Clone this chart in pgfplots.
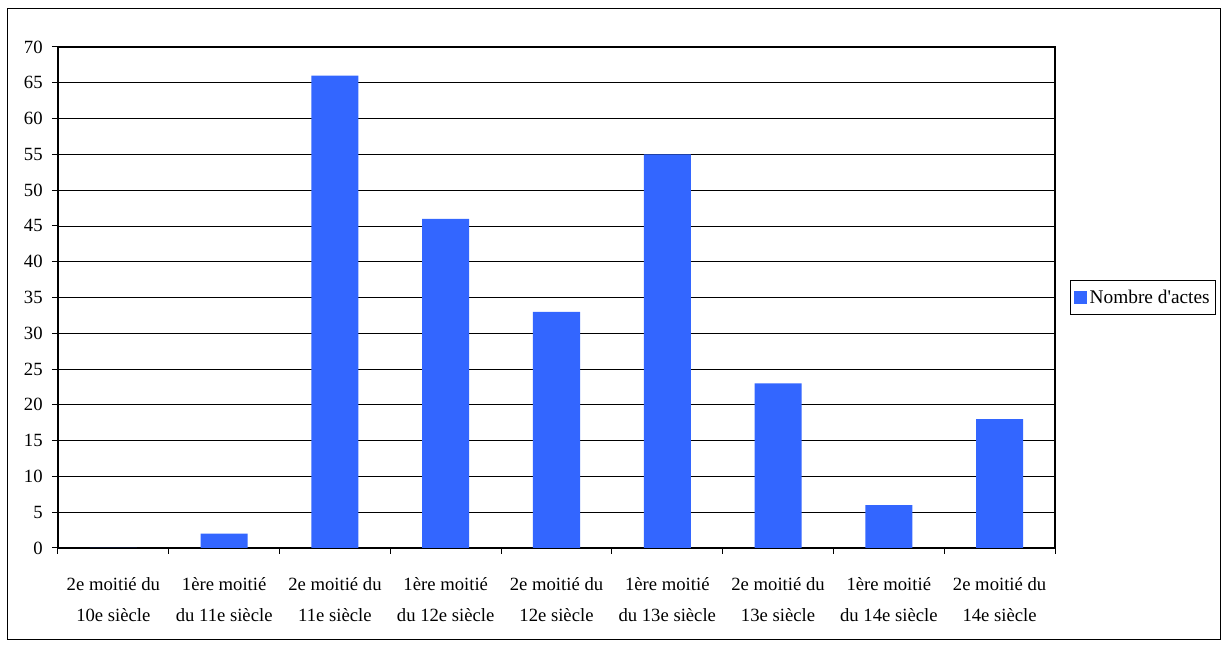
\documentclass[border=0pt]{standalone}
\usepackage{pgfplots}
\pgfplotsset{compat=1.18}
\usepackage{fontspec}
\setmainfont{Liberation Serif}
\newfontfamily\plainfont{Liberation Serif}
\definecolor{barblue}{HTML}{3366FF}
\begin{document}
\begin{tikzpicture}[x=1pt,y=1pt]
\path (0,0) rectangle (918.75,486);
\draw[line width=0.75pt] (5.25,6) rectangle (915,479.25);
\begin{axis}[
  at={(43.5pt,75pt)}, anchor=south west,
  scale only axis, width=747.75pt, height=375.75pt,
  xmin=-0.5, xmax=8.5, ymin=0, ymax=70,
  ytick={0,5,...,70},
  xtick={0,...,8},
  xticklabels={{2e moitié du\\10e siècle},{1ère moitié\\du 11e siècle},{2e moitié du\\11e siècle},{1ère moitié\\du 12e siècle},{2e moitié du\\12e siècle},{1ère moitié\\du 13e siècle},{2e moitié du\\13e siècle},{1ère moitié\\du 14e siècle},{2e moitié du\\14e siècle}},
  minor xtick={-0.5,0.5,...,8.5},
  ymajorgrids, major grid style={black, line width=0.6pt},
  axis line style={black, line width=1pt},
  tick align=outside, tick pos=left,
  major tick length=4.5pt, minor tick length=4.5pt,
  major x tick style={draw=none},
  minor x tick style={black, line width=0.75pt},
  major y tick style={black, line width=0.75pt},
  /pgf/number format/assume math mode=true,
  ticklabel style={font=\fontsize{14}{23}\selectfont},
  x tick label style={align=center, yshift=-14pt},
  y tick label style={xshift=-3.5pt},
  ybar, bar width=35.25pt,
  legend style={at={(1.015,0.5)}, anchor=west, draw=black, line width=0.6pt,
    font=\fontsize{14.5}{17}\selectfont, inner xsep=2.5pt, inner ysep=5pt},
  legend image code/.code={\fill[barblue] (0pt,-5pt) rectangle (10pt,5pt);},
]
\addplot[fill=barblue, draw=none] coordinates {(0,0) (1,2) (2,66) (3,46) (4,33) (5,55) (6,23) (7,6) (8,18)};
\addlegendentry{Nombre d{\plainfont'}actes}
\end{axis}
\end{tikzpicture}
\end{document}
